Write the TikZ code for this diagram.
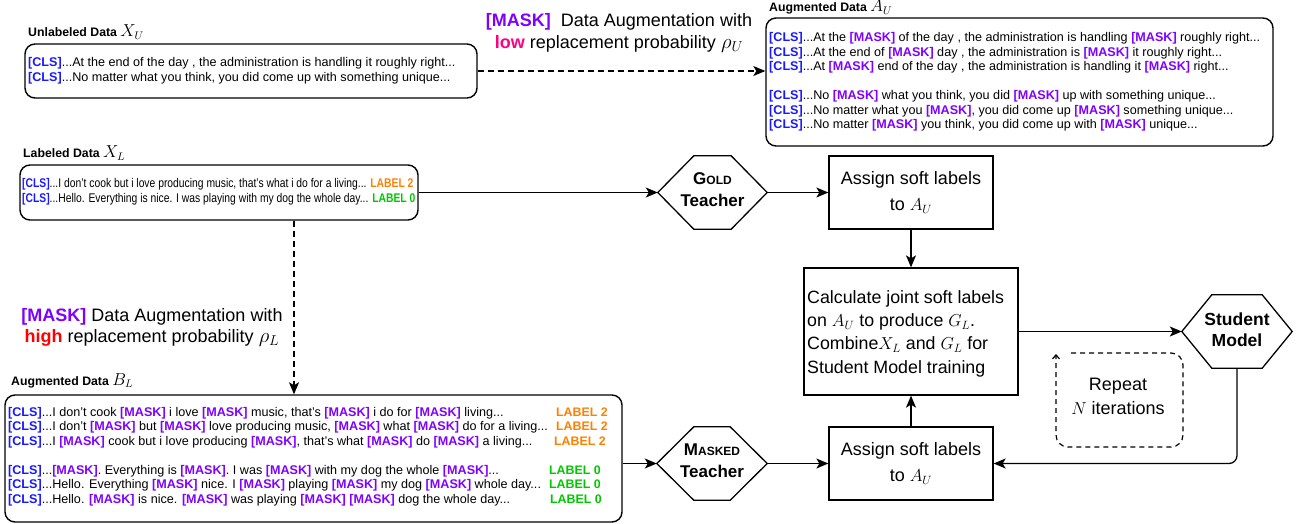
\documentclass[tikz,border=0pt]{standalone}
\usepackage{fontspec}
\setmainfont{Liberation Sans}
\usetikzlibrary{arrows.meta}
\definecolor{clsblue}{RGB}{25,25,255}
\definecolor{maskpurple}{RGB}{127,0,255}
\definecolor{labtwo}{RGB}{255,128,0}
\definecolor{labzero}{RGB}{0,200,0}
\definecolor{lowpink}{RGB}{255,0,128}
\definecolor{highred}{RGB}{255,0,0}
\newcommand\cls{{\color{clsblue}\bfseries[CLS]}}
\newcommand\msk{{\color{maskpurple}\bfseries[MASK]}}
\newcommand\labtwo{{\color{labtwo}\bfseries LABEL 2}}
\newcommand\labzero{{\color{labzero}\bfseries LABEL 0}}
\newcommand\hexpath[2]{\draw[hexline] (#1.west) -- ([xshift=#2]#1.north west) -- ([xshift=-#2]#1.north east) -- (#1.east) -- ([xshift=-#2]#1.south east) -- ([xshift=#2]#1.south west) -- cycle;}
\begin{document}
\begin{tikzpicture}[x=1pt,y=-1pt,
  databox/.style={draw, line width=1.4pt, rounded corners=10pt, inner sep=0pt},
  stepbox/.style={draw, line width=1.3pt, inner sep=0pt},
  hexarea/.style={inner sep=0pt},
  hexline/.style={draw, line width=1.3pt},
  txt/.style={anchor=base west, inner sep=0pt, font=\fontsize{12.6}{14}\selectfont},
  labr/.style={anchor=base east, inner sep=0pt, font=\fontsize{12.4}{14}\selectfont},
  ttl/.style={anchor=base west, inner sep=0pt, font=\fontsize{12.3}{14}\selectfont\bfseries},
  big/.style={inner sep=0pt, font=\fontsize{18}{22.3}\selectfont},
  arr/.style={line width=1.3pt, -{Stealth[length=12pt,width=10pt,inset=3pt]}},
  darr/.style={line width=1.3pt, dash pattern=on 6pt off 4pt, -{Stealth[length=12pt,width=10pt,inset=3pt]}}]
\useasboundingbox (0,0) rectangle (1296,523);

% ---- Unlabeled data
\node[ttl] (tunl) at (28,36.5) {Unlabeled Data \fontsize{16}{16}\selectfont$X_U$};
\node[databox, minimum width=452pt, minimum height=54pt] (unl) at (251,71) {};
\node[txt] (u1) at (28,66.5) {\cls...At the end of the day , the administration is handling it roughly right...};
\node[txt] (u2) at (28,81.5) {\cls...No matter what you think, you did come up with something unique...};

% ---- Augmented A_U
\node[ttl] (tau) at (769,11.5) {Augmented Data \fontsize{16}{16}\selectfont$A_U$};
\node[databox, minimum width=507pt, minimum height=128pt] (AU) at (1019.5,82) {};
\node[txt] (a1) at (769,41.5) {\cls...At the \msk{} of the day , the administration is handling \msk{} roughly right...};
\node[txt] (a2) at (769,56) {\cls...At the end of \msk{} day , the administration is \msk{} it roughly right...};
\node[txt] (a3) at (769,70.5) {\cls...At \msk{} end of the day , the administration is handling it \msk{} right...};
\node[txt] (a4) at (769,99) {\cls...No \msk{} what you think, you did \msk{} up with something unique...};
\node[txt] (a5) at (769,114) {\cls...No matter what you \msk, you did come up \msk{} something unique...};
\node[txt] (a6) at (769,128.5) {\cls...No matter \msk{} you think, you did come up with \msk{} unique...};

% ---- top augmentation label
\node[big, align=center] (augU) at (619,33) {{\color{maskpurple}\bfseries[MASK]}\ \ Data Augmentation with\\{\color{lowpink}\bfseries low} replacement probability {\fontsize{20}{20}\selectfont$\rho_U$}};

% ---- Labeled data
\node[ttl] (tl) at (23,157.5) {Labeled Data \fontsize{16}{16}\selectfont$X_L$};
\node[databox, minimum width=398pt, minimum height=55pt] (XL) at (219,192.5) {};
\node[txt] (l1) at (22,187.5) {\scalebox{0.82}[1]{\cls...I don’t cook but i love producing music, that’s what i do for a living... \labtwo}};
\node[txt] (l2) at (22,202.5) {\scalebox{0.82}[1]{\cls...Hello. Everything is nice. I was playing with my dog the whole day... \labzero}};

% ---- left augmentation label
\node[big, align=center, font=\fontsize{18}{21.5}\selectfont] (augL) at (152,327.5) {{\color{maskpurple}\bfseries[MASK]} Data Augmentation with\\{\color{highred}\bfseries high} replacement probability {\fontsize{20}{20}\selectfont$\rho_L$}};

% ---- Augmented B_L
\node[ttl] (tbl) at (11,385) {Augmented Data \fontsize{16}{16}\selectfont$B_L$};
\node[databox, minimum width=617pt, minimum height=127pt] (BL) at (313.5,458.5) {};
\node[txt] (b1) at (8,416) {\cls...I don’t cook \msk{} i love \msk{} music, that’s \msk{} i do for \msk{} living...};
\node[txt] (b2) at (8,430.5) {\cls...I don’t \msk{} but \msk{} love producing music, \msk{} what \msk{} do for a living...};
\node[txt] (b3) at (8,445) {\cls...I \msk{} cook but i love producing \msk, that’s what \msk{} do \msk{} a living...};
\node[txt] (b4) at (8,474) {\cls...\msk. Everything is \msk. I was \msk{} with my dog the whole \msk...};
\node[txt] (b5) at (8,488.5) {\cls...Hello. Everything \msk{} nice. I \msk{} playing \msk{} my dog \msk{} whole day...};
\node[txt] (b6) at (8,503) {\cls...Hello. \msk{} is nice. \msk{} was playing \msk{} \msk{} dog the whole day...};
\node[labr] (b1l) at (608,416) {\labtwo};
\node[labr] (b2l) at (608,430.5) {\labtwo};
\node[labr] (b3l) at (606,445) {\labtwo};
\node[labr] (b4l) at (601,474) {\labzero};
\node[labr] (b5l) at (601,488.5) {\labzero};
\node[labr] (b6l) at (602,503) {\labzero};

% ---- teachers and student
\node[hexarea, minimum width=109pt, minimum height=73pt] (gold) at (712.5,192.5) {};
\hexpath{gold}{36pt}
\node[inner sep=0pt, font=\fontsize{17}{22}\selectfont\bfseries, align=center] (goldtxt) at (712.5,189.5) {G{\fontsize{12}{12}\selectfont OLD}\\Teacher};
\node[hexarea, minimum width=110pt, minimum height=73pt] (masked) at (712,463.5) {};
\hexpath{masked}{37pt}
\node[inner sep=0pt, font=\fontsize{17}{22}\selectfont\bfseries, align=center] (maskedtxt) at (712,461) {M{\fontsize{12}{12}\selectfont ASKED}\\Teacher};
\node[hexarea, minimum width=110pt, minimum height=73pt] (student) at (1237,331.5) {};
\hexpath{student}{30pt}
\node[inner sep=0pt, font=\fontsize{17.5}{21}\selectfont\bfseries, align=center] (stxt) at (1237,329.5) {Student\\Model};

% ---- steps
\node[stepbox, minimum width=164pt, minimum height=73pt, font=\fontsize{18}{26}\selectfont, align=center] (as1) at (911,192.5) {Assign soft labels\\to $A_U$};
\node[stepbox, minimum width=164pt, minimum height=73pt, font=\fontsize{18}{26}\selectfont, align=center] (as2) at (911,463.5) {Assign soft labels\\to $A_U$};
\node[stepbox, minimum width=214pt, minimum height=127pt] (calc) at (911,331.5) {};
\node[inner sep=0pt, font=\fontsize{17.8}{23.3}\selectfont, align=left, anchor=west] (calctxt) at (807,333.5) {Calculate joint soft labels\\on $A_U$ to produce $G_L$.\\Combine$X_L$ and $G_L$ for\\Student Model training};

% ---- repeat loop
\node[inner sep=0pt, font=\fontsize{18}{24}\selectfont, align=center] (rep) at (1118,396) {Repeat\\$N$ iterations};
\draw[line width=1.2pt, dash pattern=on 5pt off 4pt, rounded corners=12pt, -{Straight Barb[length=4pt,width=7pt]}] (1071,353) -- (1183,353) -- (1183,447) -- (1056,447) -- (1056,354);

% ---- connectors
\coordinate (dx) at (294,0);
\draw[darr] (unl.east) -- (unl.east -| AU.west);
\draw[darr] (XL.south -| dx) -- (BL.north -| dx);
\draw[arr] (XL.east) -- (gold.west);
\draw[arr] (gold.east) -- (as1.west);
\draw[arr] (as1.south) -- (calc.north);
\draw[arr] (calc.east) -- (student.west);
\draw[arr, rounded corners=8pt] (student.south) -- (student.south |- as2.east) -- (as2.east);
\draw[arr] (as2.north) -- (calc.south);
\draw[arr] (masked.west -| BL.east) -- (masked.west);
\draw[arr] (masked.east) -- (as2.west);
\end{tikzpicture}
\end{document}
